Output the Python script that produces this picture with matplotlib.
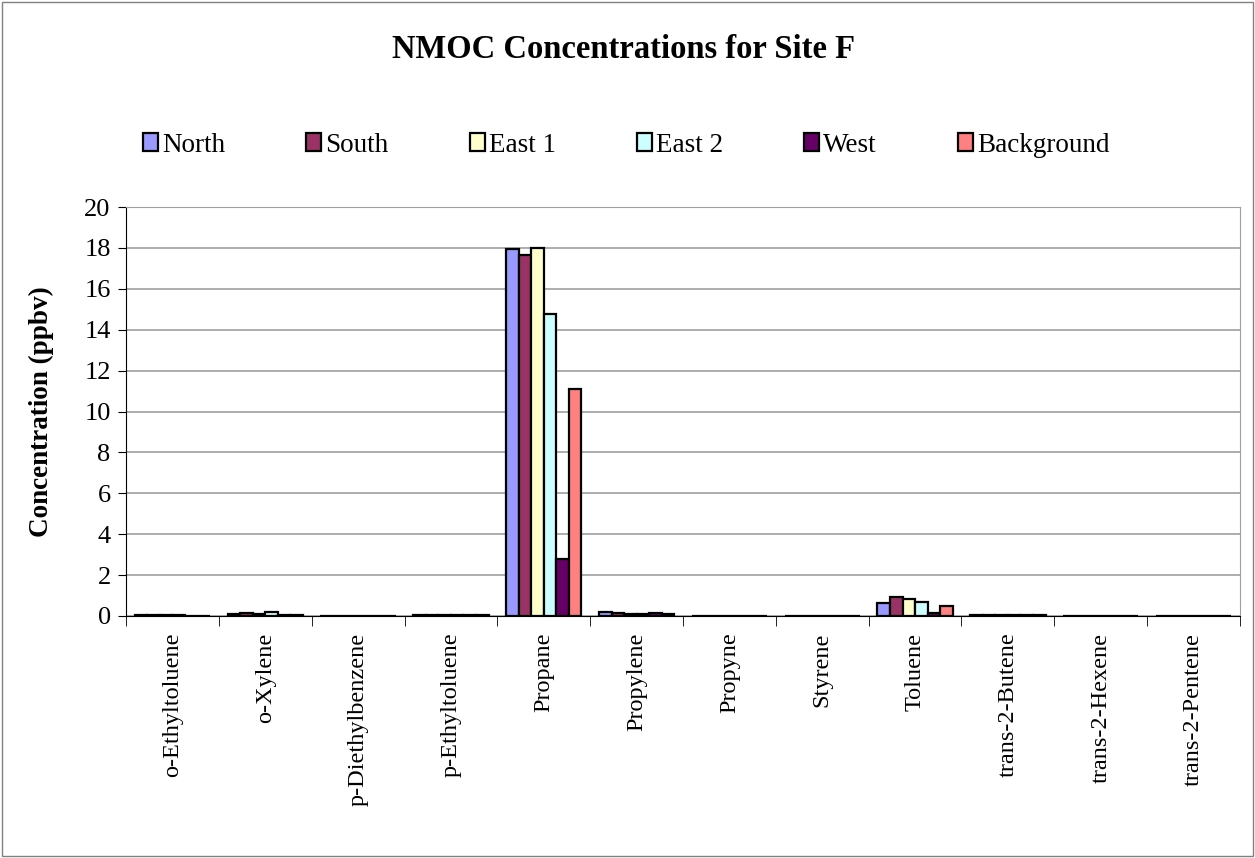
import numpy as np
import matplotlib.pyplot as plt

plt.rcParams['font.family'] = ['Liberation Serif', 'DejaVu Serif']

compounds = ['o-Ethyltoluene', 'o-Xylene', 'p-Diethylbenzene', 'p-Ethyltoluene',
             'Propane', 'Propylene', 'Propyne', 'Styrene', 'Toluene',
             'trans-2-Butene', 'trans-2-Hexene', 'trans-2-Pentene']
sites = ['North', 'South', 'East 1', 'East 2', 'West', 'Background']
colors = ['#9999FF', '#993366', '#FFFFCC', '#CCFFFF', '#660066', '#FF8080']

north = [0.04, 0.10, 0.02, 0.04, 17.95, 0.21, 0.02, 0.02, 0.62, 0.03, 0.02, 0.02]
south = [0.04, 0.17, 0.02, 0.05, 17.65, 0.13, 0.02, 0.02, 0.93, 0.03, 0.02, 0.02]
east1 = [0.05, 0.09, 0.02, 0.05, 18.00, 0.12, 0.02, 0.02, 0.82, 0.06, 0.02, 0.02]
east2 = [0.04, 0.22, 0.02, 0.05, 14.75, 0.12, 0.02, 0.02, 0.68, 0.03, 0.02, 0.02]
west = [0.02, 0.04, 0.02, 0.03, 2.80, 0.14, 0.02, 0.02, 0.13, 0.05, 0.02, 0.02]
background = [0.02, 0.07, 0.02, 0.03, 11.10, 0.12, 0.02, 0.02, 0.49, 0.03, 0.02, 0.02]
series = [north, south, east1, east2, west, background]

fig = plt.figure(figsize=(12.55, 8.58), dpi=100)
fig.patches.append(plt.Rectangle((0.0015, 0.002), 0.997, 0.996, transform=fig.transFigure,
                                 fill=False, edgecolor='#808080', lw=1))
ax = fig.add_axes([126 / 1255, 1 - 616 / 858, (1240 - 126) / 1255, (616 - 207) / 858])

x = np.arange(len(compounds))
w = 0.135
for i, (name, vals) in enumerate(zip(sites, series)):
    ax.bar(x + (i - 2.5) * w, vals, w, color=colors[i], edgecolor='black',
           linewidth=1.6, label=name, zorder=3)

ax.set_xlim(-0.5, len(compounds) - 0.5)
ax.set_ylim(0, 20)
ax.set_yticks(np.arange(0, 21, 2))
ax.yaxis.grid(True, color='#A0A0A0', lw=1.2, zorder=0)
ax.set_xticks(x)
ax.set_xticklabels(compounds, rotation=90, fontsize=17.5)
ax.tick_params(axis='x', length=0, pad=12)
ax.set_xticks(np.arange(-0.5, len(compounds)), minor=True)
ax.tick_params(axis='x', which='minor', length=7, color='black')
ax.tick_params(axis='y', labelsize=19, length=6, pad=5)
for s in ['top', 'right']:
    ax.spines[s].set_color('#A0A0A0')
for s in ['left', 'bottom']:
    ax.spines[s].set_color('black')
ax.set_ylabel('Concentration (ppbv)', fontsize=19.5, fontweight='bold', labelpad=22)

fig.text(0.497, 1 - 50 / 858, 'NMOC Concentrations for Site F', ha='center', va='center',
         fontsize=23.5, fontweight='bold')
fig.legend(loc='center', bbox_to_anchor=(0.499, 1 - 145 / 858), ncol=6, frameon=False,
           fontsize=19.5, handlelength=0.55, handleheight=0.6, handletextpad=0.15,
           columnspacing=3.0)

fig.savefig('out.png', dpi=100)
